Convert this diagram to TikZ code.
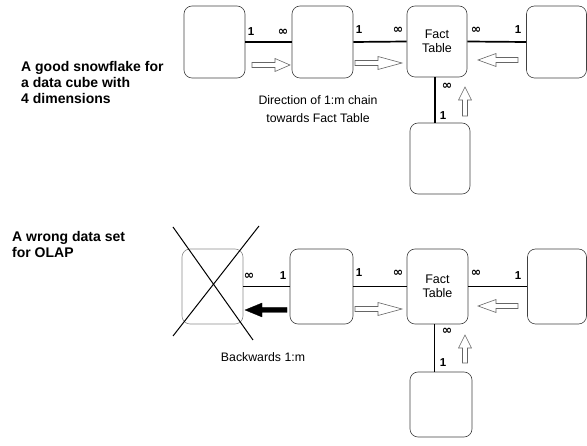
\documentclass[tikz,border=0pt]{standalone}
\usepackage{fontspec}
\setmainfont{Liberation Sans}
\newfontfamily\symfont{DejaVu Sans}
\newcommand{\infsym}{{\symfont\bfseries\fontsize{12.5}{12}\selectfont ∞}}
\newcommand{\harr}[5]{% x, y, angle, length, head length
\begin{scope}[shift={(#1,#2)},rotate=#3]
\draw[hollow] (0,-2.5) -- (#4-#5,-2.5) -- (#4-#5,-6.5) -- (#4,0) -- (#4-#5,6.5) -- (#4-#5,2.5) -- (0,2.5) -- cycle;
\end{scope}}
\begin{document}
\begin{tikzpicture}[x=1pt,y=-1pt,
  tbl/.style={draw=black!75,line width=0.6pt,rounded corners=8pt,inner sep=0pt},
  xtbl/.style={draw=black!45,line width=0.6pt,rounded corners=8pt,inner sep=0pt},
  rel/.style={line width=1.7pt},
  card/.style={font=\bfseries\fontsize{11.5}{12}\selectfont,inner sep=0pt},
  hollow/.style={draw=black!60,line width=0.6pt,fill=white},
  solidarr/.style={fill=black,draw=black,line width=0.3pt},
  heading/.style={font=\bfseries\fontsize{14}{16}\selectfont,align=left,anchor=north west,inner sep=0pt},
  note/.style={font=\fontsize{12.3}{18}\selectfont,align=center,inner sep=0pt},
  ftxt/.style={font=\fontsize{12.5}{14.5}\selectfont,align=center}]
\useasboundingbox (0,0) rectangle (587,446);

% ---------- top diagram ----------
\node[heading] (h1) at (21,61) {A good snowflake for\\a data cube with\\4 dimensions};

\node[tbl,minimum width=61pt,minimum height=72pt] (A) at (214.5,42) {};
\node[tbl,minimum width=61pt,minimum height=72pt] (B) at (322.5,42) {};
\node[tbl,minimum width=60pt,minimum height=71pt,ftxt] (F) at (437,41.5) {Fact\\Table};
\node[tbl,minimum width=60pt,minimum height=72pt] (D) at (556.5,42) {};
\node[tbl,minimum width=60pt,minimum height=71pt] (E) at (440,158.5) {};

\draw[rel] (A.east) -- (B.west);
\draw[rel] (B.east) -- (F.west);
\draw[rel] (F.east) -- (D.west);
\draw[rel] ([xshift=-2pt]F.south) -- ([xshift=-2pt]F.south |- E.north);

\node[card] (a1) at (251,32) {1};
\node[card] (a2) at (283,32) {\infsym};
\node[card] (b1) at (359,30) {1};
\node[card] (b2) at (398,30) {\infsym};
\node[card] (d1) at (476,30) {\infsym};
\node[card] (d2) at (518,30) {1};
\node[card] (e1) at (447,86) {\infsym};
\node[card] (e2) at (443,116) {1};

\harr{252}{65}{0}{38}{15}
\harr{355}{63}{0}{47}{24}
\harr{518}{60}{180}{40}{18}
\harr{465}{116}{90}{29}{13}

\node[note] (n1) at (318,109) {Direction of 1:m chain\\towards Fact Table};

% ---------- bottom diagram ----------
\node[heading] (h2) at (12,231) {A wrong data set\\for OLAP};

\node[xtbl,minimum width=61pt,minimum height=75pt] (X) at (212.5,286.5) {};
\node[tbl,minimum width=63pt,minimum height=75pt] (B2) at (321.5,286.5) {};
\node[tbl,minimum width=61pt,minimum height=75pt,ftxt] (F2) at (437.5,286.5) {Fact\\Table};
\node[tbl,minimum width=59pt,minimum height=75pt] (D2) at (557,286.5) {};
\node[tbl,minimum width=62pt,minimum height=65pt] (E2) at (441,404.5) {};

\draw[line width=1pt] (173,227) -- (253,340);
\draw[line width=1pt] (259,226) -- (173,336);

\draw[rel] (X.east) -- (B2.west);
\draw[rel] (B2.east) -- (F2.west);
\draw[rel] (F2.east) -- (D2.west);
\draw[rel] ([xshift=-3pt]F2.south) -- ([xshift=-3pt]F2.south |- E2.north);

\node[card] (x1) at (249,276) {\infsym};
\node[card] (x2) at (283,276) {1};
\node[card] (c1) at (359,273) {1};
\node[card] (c2) at (398,273) {\infsym};
\node[card] (g1) at (476,273) {\infsym};
\node[card] (g2) at (518,276) {1};
\node[card] (k1) at (447,331) {\infsym};
\node[card] (k2) at (443,363) {1};

\draw[solidarr] (287,307.5) -- (262,307.5) -- (262,303) -- (245,310) -- (262,317) -- (262,312.5) -- (287,312.5) -- cycle;
\harr{355}{309}{0}{47}{24}
\harr{518}{306}{180}{40}{18}
\harr{465}{363}{90}{28}{13}

\node[note] (n2) at (263,357) {Backwards 1:m};
\end{tikzpicture}
\end{document}
